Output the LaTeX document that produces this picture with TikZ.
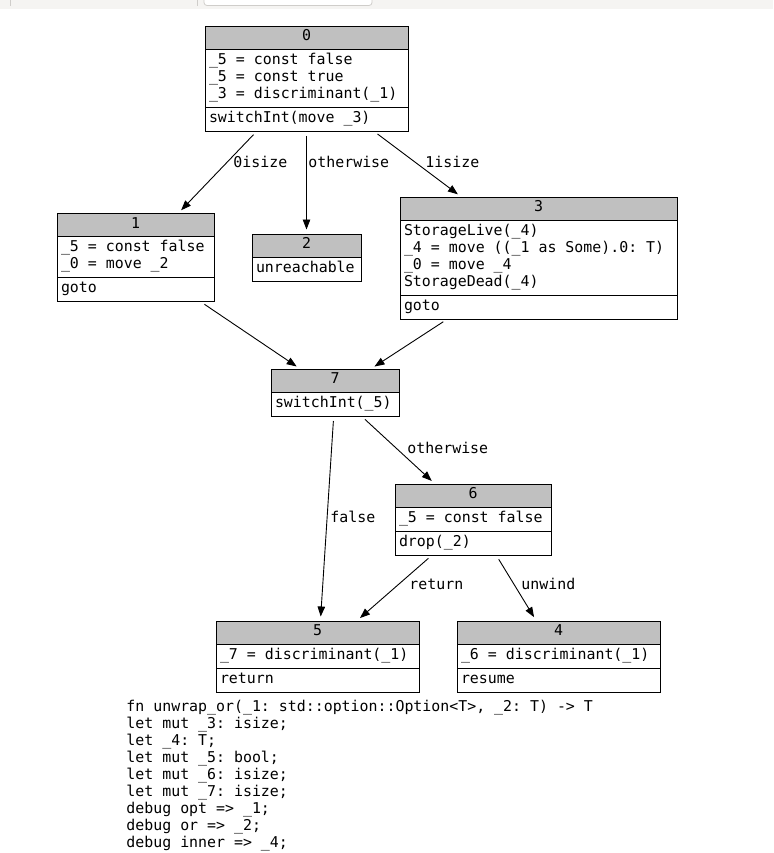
\documentclass[tikz,border=0pt]{standalone}
\usepackage{fontspec}
\newfontfamily\mirfont{DejaVu Sans Mono}
\usetikzlibrary{positioning,arrows.meta}
\frenchspacing
\definecolor{hdrgray}{HTML}{C0C0C0}
\definecolor{barbg}{HTML}{F5F4F2}
\definecolor{barline}{HTML}{CFCDCA}
\tikzset{
  mir/.style={font=\mirfont\fontsize{14.9}{17}\selectfont},
  hdr/.style={draw, fill=hdrgray, mir, minimum width=#1, minimum height=23pt, inner sep=0pt, outer sep=0pt, anchor=north, execute at begin node=\strut},
  cell/.style={draw, fill=white, mir, text width=#1, align=flush left, inner xsep=4pt, inner ysep=3.5pt, outer sep=0pt, execute at begin node=\strut, execute at end node=\strut},
  lbl/.style={mir, anchor=west, inner sep=0pt},
  flow/.style={->, line width=0.9pt, shorten <=5pt, shorten >=4.5pt}
}
\begin{document}
\begin{tikzpicture}[x=1pt, y=-1pt, >={Triangle[length=10pt,width=7.5pt]}, line width=0.9pt]
\useasboundingbox (0,0) rectangle (773,853);
% strip at the top
\fill[barbg] (0,0) rectangle (773,9.5);
\draw[barline, line width=0.8pt] (10.7,0) -- (10.7,6) (197,0) -- (197,6);
\draw[barline, line width=0.8pt, fill=white, rounded corners=3pt] (204,-5) rectangle (372,5.5);

% basic blocks
\node[hdr=203pt] (b0) at (306.5,26) {0};
\node[cell=195pt, below=0pt of b0] (b0s) {\_5 = const false\\\_5 = const true\\\_3 = discriminant(\_1)};
\node[cell=195pt, below=0pt of b0s] (b0t) {switchInt(move \_3)};

\node[hdr=157pt] (b1) at (135.5,213.5) {1};
\node[cell=149pt, below=0pt of b1] (b1s) {\_5 = const false\\\_0 = move \_2};
\node[cell=149pt, below=0pt of b1s] (b1t) {goto};

\node[hdr=109pt] (b2) at (306.5,234) {2};
\node[cell=101pt, below=0pt of b2] (b2t) {unreachable};

\node[hdr=277pt] (b3) at (538.5,197) {3};
\node[cell=269pt, below=0pt of b3] (b3s) {StorageLive(\_4)\\\_4 = move ((\_1 as Some).0: T)\\\_0 = move \_4\\StorageDead(\_4)};
\node[cell=269pt, below=0pt of b3s] (b3t) {goto};

\node[hdr=128pt] (b7) at (335,369) {7};
\node[cell=120pt, below=0pt of b7] (b7s) {switchInt(\_5)};

\node[hdr=156pt] (b6) at (473,484) {6};
\node[cell=148pt, below=0pt of b6] (b6s) {\_5 = const false};
\node[cell=148pt, below=0pt of b6s] (b6t) {drop(\_2)};

\node[hdr=203pt] (b5) at (317.5,621) {5};
\node[cell=195pt, below=0pt of b5] (b5s) {\_7 = discriminant(\_1)};
\node[cell=195pt, below=0pt of b5s] (b5t) {return};

\node[hdr=203pt] (b4) at (558.5,621) {4};
\node[cell=195pt, below=0pt of b4] (b4s) {\_6 = discriminant(\_1)};
\node[cell=195pt, below=0pt of b4s] (b4t) {resume};

% control flow
\draw[flow] ([xshift=-49.5pt]b0t.south) -- ([xshift=42.5pt]b1.north);
\draw[flow] (b0t.south) -- (b2.north);
\draw[flow] ([xshift=67pt]b0t.south) -- ([xshift=-77pt]b3.north);
\draw[flow] ([xshift=64.8pt]b1t.south) -- ([xshift=-34.6pt]b7.north);
\draw[flow] ([xshift=-91pt]b3t.south) -- ([xshift=35.7pt]b7.north);
\draw[flow] ([xshift=-1.3pt]b7s.south) -- ([xshift=2.9pt]b5.north);
\draw[flow] ([xshift=26.3pt]b7s.south) -- ([xshift=-37.9pt]b6.north);
\draw[flow] ([xshift=-40.8pt]b6t.south) -- ([xshift=39.1pt]b5.north);
\draw[flow] ([xshift=23.1pt]b6t.south) -- ([xshift=-22.1pt]b4.north);

\foreach \nm/\x/\y/\txt in {a/233/161.5/0isize, b/308/161.5/otherwise, c/425/161.5/1isize, d/407/448/otherwise, e/330/517/false, f/409/584/return, g/521/584/unwind}
{
	\node[lbl] (lbl\nm) at (\x,\y) {\txt};
}

% locals of the function
\node[mir, anchor=north west, inner sep=0pt, align=left, execute at begin node=\strut, execute at end node=\strut] (sig) at (126,700)
  {fn unwrap\_or(\_1: std::option::Option<T>, \_2: T) -> T\\
   let mut \_3: isize;\\
   let \_4: T;\\
   let mut \_5: bool;\\
   let mut \_6: isize;\\
   let mut \_7: isize;\\
   debug opt => \_1;\\
   debug or => \_2;\\
   debug inner => \_4;};
\end{tikzpicture}
\end{document}
